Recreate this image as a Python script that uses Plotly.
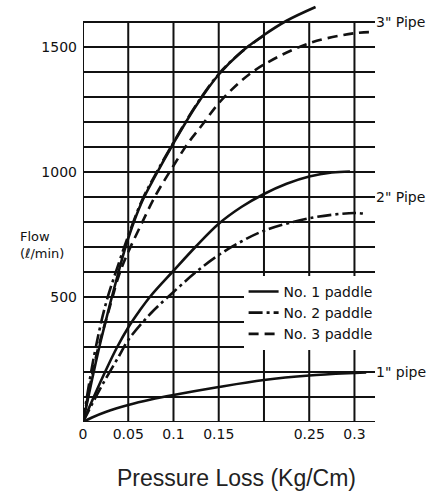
import plotly.graph_objects as go

# ---- axis / grid definitions ----
x_ticks = [0, 0.05, 0.1, 0.15, 0.2, 0.25, 0.3]
x_tick_labels = ["0", "0.05", "0.1", "0.15", "", "0.25", "0.3"]
y_grid = list(range(0, 1700, 100))
y_ticks = [500, 1000, 1500]
y_tick_labels = ["500", "1000", "1500"]
x_max = 0.3227
y_max = 1680

# ---- 3" pipe ----
p3_no1_x = [0, 0.01, 0.02, 0.04, 0.05, 0.065, 0.08, 0.1, 0.125, 0.15, 0.175, 0.2, 0.225, 0.257]
p3_no1_y = [0, 170, 330, 610, 735, 880, 985, 1115, 1265, 1390, 1480, 1548, 1605, 1660]

p3_no2_x = [0, 0.012, 0.025, 0.04, 0.05, 0.065, 0.08, 0.1, 0.125, 0.15, 0.175, 0.2]
p3_no2_y = [0, 260, 470, 640, 745, 885, 990, 1118, 1268, 1392, 1480, 1546]

p3_no3_x = [0, 0.015, 0.03, 0.04, 0.05, 0.063, 0.08, 0.1, 0.116, 0.131, 0.15, 0.175, 0.2, 0.25, 0.3, 0.322]
p3_no3_y = [0, 270, 465, 590, 680, 780, 905, 1025, 1115, 1185, 1275, 1365, 1430, 1515, 1555, 1560]

# ---- 2" pipe ----
p2_no1_x = [0, 0.0125, 0.025, 0.0375, 0.05, 0.0625, 0.075, 0.1, 0.125, 0.15, 0.175, 0.2, 0.225, 0.25, 0.275, 0.295]
p2_no1_y = [0, 105, 205, 298, 378, 445, 505, 605, 703, 793, 860, 912, 953, 982, 998, 1002]

p2_no2_x = [0, 0.02, 0.04, 0.05, 0.075, 0.1, 0.125, 0.15, 0.175, 0.2, 0.25, 0.3, 0.313]
p2_no2_y = [0, 140, 265, 328, 435, 520, 600, 668, 722, 765, 815, 836, 832]

# ---- 1" pipe ----
p1_no1_x = [0, 0.01, 0.025, 0.05, 0.075, 0.1, 0.15, 0.2, 0.25, 0.3, 0.313]
p1_no1_y = [0, 18, 40, 68, 90, 108, 140, 168, 186, 196, 198]

series_names = ["No. 1 paddle", "No. 2 paddle", "No. 3 paddle"]
pipe_labels = ['3" Pipe', '2" Pipe', '1" pipe']
pipe_label_levels = [1600, 900, 200]

INK = "#111111"
DASH_NO2 = "14px,4px,3px,4px"
DASH_NO3 = "10px,6px"
LW = 2.6

fig = go.Figure()

fig.add_trace(go.Scatter(x=p3_no2_x, y=p3_no2_y, mode="lines", name=series_names[1],
                         line=dict(color=INK, width=LW, dash=DASH_NO2, shape="spline"),
                         showlegend=False))
fig.add_trace(go.Scatter(x=p3_no1_x, y=p3_no1_y, mode="lines", name=series_names[0],
                         line=dict(color=INK, width=LW, shape="spline"), showlegend=True,
                         legendrank=1))
fig.add_trace(go.Scatter(x=p2_no2_x, y=p2_no2_y, mode="lines", name=series_names[1],
                         line=dict(color=INK, width=LW, dash=DASH_NO2, shape="spline"),
                         showlegend=True, legendrank=2))
fig.add_trace(go.Scatter(x=p3_no3_x, y=p3_no3_y, mode="lines", name=series_names[2],
                         line=dict(color=INK, width=LW, dash=DASH_NO3, shape="spline"),
                         showlegend=True, legendrank=3))
fig.add_trace(go.Scatter(x=p2_no1_x, y=p2_no1_y, mode="lines", name=series_names[0],
                         line=dict(color=INK, width=LW, shape="spline"), showlegend=False))
fig.add_trace(go.Scatter(x=p1_no1_x, y=p1_no1_y, mode="lines", name=series_names[0],
                         line=dict(color=INK, width=LW, shape="spline"), showlegend=False))

# grid drawn from the tick arrays
shapes = []
for xv in x_ticks:
    shapes.append(dict(type="line", xref="x", yref="y", x0=xv, x1=xv, y0=0, y1=1600,
                       line=dict(color=INK, width=2), layer="below"))
for yv in y_grid:
    shapes.append(dict(type="line", xref="x", yref="y", x0=0, x1=x_max, y0=yv, y1=yv,
                       line=dict(color=INK, width=2), layer="below"))

annotations = []
for lab, lev in zip(pipe_labels, pipe_label_levels):
    annotations.append(dict(text=lab, xref="paper", yref="y", x=1, y=lev, xanchor="left",
                            yanchor="middle", xshift=-1, showarrow=False,
                            font=dict(family="DejaVu Sans", size=14, color=INK)))
annotations.append(dict(text="Flow<br>(ℓ/min)", xref="paper", yref="paper", x=-0.2226, y=0.4226,
                        xanchor="left", yanchor="middle", align="left", showarrow=False,
                        font=dict(family="DejaVu Sans", size=13, color=INK)))
annotations.append(dict(text="Pressure Loss (Kg/Cm)", xref="paper", yref="paper", x=0.524, y=-0.133,
                        xanchor="center", yanchor="middle", showarrow=False,
                        font=dict(family="Liberation Sans, Arial", size=23, color="#222222")))

fig.update_layout(
    width=444, height=493,
    margin=dict(l=83, r=69, t=2, b=71),
    paper_bgcolor="white", plot_bgcolor="white",
    shapes=shapes, annotations=annotations,
    showlegend=True,
    legend=dict(x=0.55, y=0.348, xanchor="left", yanchor="top", bgcolor="white",
                font=dict(family="DejaVu Sans", size=14, color=INK),
                tracegroupgap=0, itemwidth=30),
    xaxis=dict(range=[0, x_max], showgrid=False, zeroline=False, showline=False,
               automargin=False,
               tickvals=x_ticks, ticktext=x_tick_labels, ticks="",
               tickfont=dict(family="DejaVu Sans", size=14, color=INK), ticklabelstandoff=2),
    yaxis=dict(range=[0, y_max], showgrid=False, zeroline=False, showline=False,
               automargin=False,
               tickvals=y_ticks, ticktext=y_tick_labels, ticks="",
               tickfont=dict(family="DejaVu Sans", size=14, color=INK), ticklabelstandoff=5),
)

fig.write_html("out.html", config={"displayModeBar": False},
               post_script="document.body.style.margin='0';")
